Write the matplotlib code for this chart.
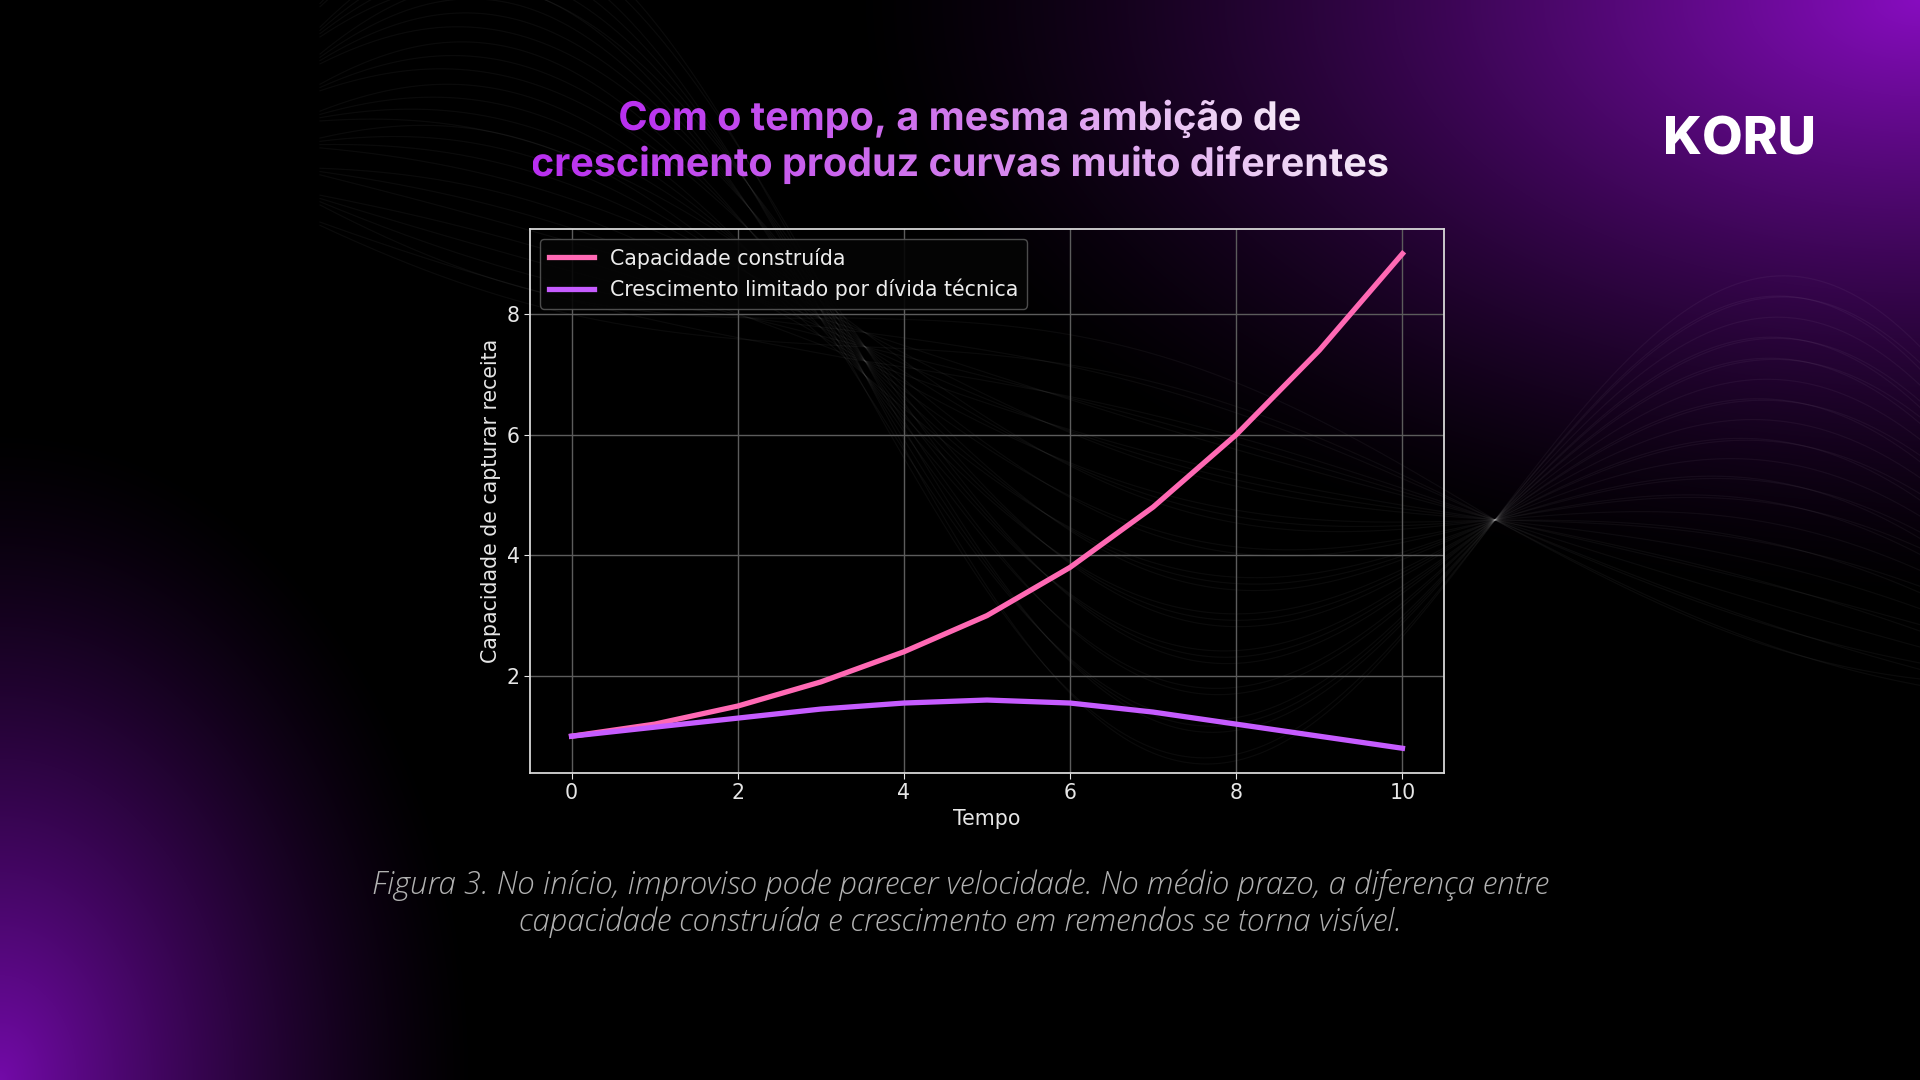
import numpy as np
import matplotlib
matplotlib.use("Agg")
import matplotlib.pyplot as plt
from matplotlib.textpath import TextPath
from matplotlib.font_manager import FontProperties
from matplotlib.patches import PathPatch
from matplotlib.transforms import Affine2D
from matplotlib.colors import LinearSegmentedColormap

# data
tempo = [0, 1, 2, 3, 4, 5, 6, 7, 8, 9, 10]
capacidade = [1.0, 1.2, 1.5, 1.9, 2.4, 3.0, 3.8, 4.8, 6.0, 7.4, 9.0]
divida = [1.0, 1.15, 1.3, 1.45, 1.55, 1.6, 1.55, 1.4, 1.2, 1.0, 0.8]
series_labels = ["Capacidade construída", "Crescimento limitado por dívida técnica"]
title_lines = ["Com o tempo, a mesma ambição de",
               "crescimento produz curvas muito diferentes"]
caption_lines = ["Figura 3. No início, improviso pode parecer velocidade. No médio prazo, a diferença entre",
                 "capacidade construída e crescimento em remendos se torna visível."]
x_label = "Tempo"
y_label = "Capacidade de capturar receita"
logo = "KORU"

W, H = 1920, 1080
fig = plt.figure(figsize=(19.2, 10.8), dpi=100)
fig.patch.set_facecolor("black")

# background layer in pixel coords (y down)
bg = fig.add_axes([0, 0, 1, 1])
bg.axis("off")

yy, xx = np.mgrid[0:H, 0:W]
d1 = np.sqrt(((xx - W) / 1080.0) ** 2 + (yy / 600.0) ** 2)
g1 = np.clip(1 - d1, 0, 1) ** 1.4
d2 = np.sqrt((xx / 480.0) ** 2 + ((yy - H) / 660.0) ** 2)
g2 = np.clip(1 - d2, 0, 1) ** 1.4
img = g1[..., None] * np.array([0.53, 0.05, 0.75]) + g2[..., None] * np.array([0.45, 0.04, 0.66])
img = np.clip(img, 0, 1)
bg.imshow(img, extent=[0, W, H, 0], aspect="auto", interpolation="bilinear", zorder=0)

# faint decorative waves, pinched near the right
xs = np.linspace(320, W, 800)
base = 355 + (xs - 906) * 0.28
spread = np.clip(np.abs(xs - 1495) / 650.0, 0, 1)
for k, a in enumerate(np.linspace(-60, 330, 30)):
    off = ((k * 7) % 11 - 5) * 4.0
    bg.plot(xs, base + off * spread - a * np.sin(np.pi * (xs - 1495) / 650.0),
            color="white", alpha=0.045, lw=0.9, zorder=1)

# gradient title
fp_title = FontProperties(family=["Inter", "Open Sans", "DejaVu Sans"], weight="bold")
paths = [TextPath((0, 0), s, size=1, prop=fp_title) for s in title_lines]
size = 855.0 / paths[1].get_extents().width
baselines = [130, 176]
grad_cmap = LinearSegmentedColormap.from_list("title", ["#b92ff0", "#d27cec", "#f6ecf8"])
grad = np.linspace(0, 1, 256)[None, :]
for path, yb in zip(paths, baselines):
    ext = path.get_extents()
    w = ext.width * size
    x0 = 960 - w / 2 - ext.x0 * size
    tpath = Affine2D().scale(size, -size).translate(x0, yb).transform_path(path)
    patch = PathPatch(tpath, transform=bg.transData, facecolor="none", edgecolor="none")
    im = bg.imshow(grad, cmap=grad_cmap, extent=[960 - w / 2, 960 + w / 2, yb + 0.35 * size, yb - 1.05 * size],
                   aspect="auto", interpolation="bilinear", zorder=3)
    im.set_clip_path(patch)

# logo
bg.text(1740, 141, logo, ha="center", va="center", fontsize=38, fontweight="heavy",
        family=["Inter", "Lato", "DejaVu Sans"], color="white", zorder=3)

# caption
caption_y = [885, 922]
for line, cy in zip(caption_lines, caption_y):
    bg.text(960, cy, line, ha="center", va="center", fontsize=22.5, style="italic", weight="light",
            family=["Open Sans", "DejaVu Sans"], color="#b2b2b2", zorder=3)

bg.set_xlim(0, W)
bg.set_ylim(H, 0)

# chart
fs = 14.8
ax = fig.add_axes([530 / W, 1 - 773 / H, 914 / W, 544 / H])
ax.set_facecolor("none")
ax.plot(tempo, capacidade, color="#ff69b4", lw=3.8, label=series_labels[0], zorder=3)
ax.plot(tempo, divida, color="#c65cff", lw=3.8, label=series_labels[1], zorder=3)
ax.grid(True, color="#5c5c5c", lw=1)
ax.set_axisbelow(True)
for s in ax.spines.values():
    s.set_color("#d8d8d8")
    s.set_linewidth(1.3)
ax.tick_params(colors="#e6e6e6", labelsize=fs, length=4)
ax.set_xlabel(x_label, fontsize=fs, color="#e6e6e6")
ax.set_ylabel(y_label, fontsize=fs, color="#e6e6e6")
leg = ax.legend(loc="upper left", fontsize=fs, facecolor="#050505", edgecolor="#555555",
                framealpha=0.9, labelcolor="#ececec", handlelength=2.2)

fig.savefig("out.png", dpi=100, facecolor="black")
